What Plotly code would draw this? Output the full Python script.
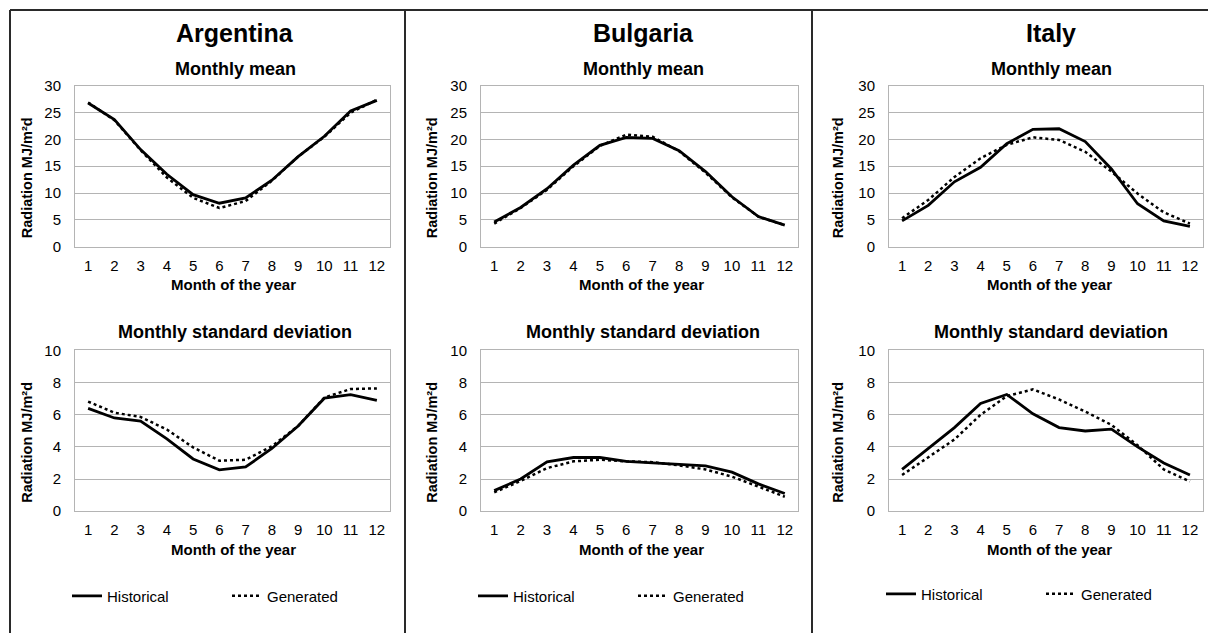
import plotly.graph_objects as go

# ---------------- data ----------------
months = [1, 2, 3, 4, 5, 6, 7, 8, 9, 10, 11, 12]
month_labels = [str(m) for m in months]
countries = ["Argentina", "Bulgaria", "Italy"]
series_names = ["Historical", "Generated"]

arg_mean_hist = [26.8, 23.7, 18.1, 13.5, 9.7, 8.1, 9.1, 12.4, 16.8, 20.6, 25.3, 27.3]
arg_mean_gen = [26.9, 23.6, 18.0, 12.9, 9.1, 7.2, 8.5, 12.3, 16.8, 20.5, 25.0, 27.4]
bul_mean_hist = [4.6, 7.3, 10.8, 15.2, 18.9, 20.4, 20.2, 17.9, 14.0, 9.3, 5.6, 4.0]
bul_mean_gen = [4.3, 7.2, 10.6, 15.0, 18.8, 20.9, 20.5, 17.8, 13.8, 9.2, 5.6, 4.0]
ita_mean_hist = [4.8, 7.7, 12.1, 14.8, 19.2, 21.9, 22.0, 19.6, 14.5, 8.0, 4.8, 3.8]
ita_mean_gen = [5.3, 8.7, 13.0, 16.5, 19.0, 20.4, 19.9, 17.7, 14.0, 9.9, 6.4, 4.3]

arg_sd_hist = [6.4, 5.8, 5.6, 4.5, 3.25, 2.57, 2.75, 3.9, 5.3, 7.03, 7.25, 6.9]
arg_sd_gen = [6.82, 6.13, 5.86, 5.08, 3.97, 3.14, 3.2, 4.04, 5.3, 7.07, 7.6, 7.64]
bul_sd_hist = [1.28, 2.0, 3.07, 3.34, 3.34, 3.1, 3.0, 2.93, 2.82, 2.43, 1.7, 1.1]
bul_sd_gen = [1.17, 1.88, 2.68, 3.1, 3.2, 3.1, 3.05, 2.85, 2.6, 2.15, 1.53, 0.9]
ita_sd_hist = [2.6, 3.9, 5.2, 6.7, 7.26, 6.06, 5.2, 4.99, 5.1, 4.0, 3.0, 2.25]
ita_sd_gen = [2.25, 3.37, 4.46, 6.0, 7.16, 7.58, 6.95, 6.2, 5.37, 4.1, 2.6, 1.85]

mean_data = [(arg_mean_hist, arg_mean_gen), (bul_mean_hist, bul_mean_gen), (ita_mean_hist, ita_mean_gen)]
sd_data = [(arg_sd_hist, arg_sd_gen), (bul_sd_hist, bul_sd_gen), (ita_sd_hist, ita_sd_gen)]

# ---------------- layout helpers ----------------
W, H = 1208, 633
FONT = "Liberation Sans, Arial, Helvetica, sans-serif"
# the page is shown with the figure area starting 8px down and 617px tall
Y_OFF, H_EFF = 8, 617


def px_x(p):
    return p / W


def px_y(p):
    return 1 - (p - Y_OFF) / H_EFF


col_px = [(75, 390), (481, 798), (889, 1203)]
col_center = [233, 641, 1049]
ytitle_x = [27, 432, 838]
top_row = (85, 246)
bot_row = (350, 511)

fig = go.Figure()
layout = dict(
    width=W, height=H,
    margin=dict(l=0, r=0, t=0, b=0),
    paper_bgcolor="white", plot_bgcolor="white",
    font=dict(family=FONT, color="black"),
    showlegend=True,
    annotations=[], shapes=[],
)

grid_c = "#b4b4b4"
ax_idx = 0
for ci in range(3):
    for ri, (row, data, ymax, dt, sub) in enumerate([
        (top_row, mean_data[ci], 30, 5, "Monthly mean"),
        (bot_row, sd_data[ci], 10, 2, "Monthly standard deviation"),
    ]):
        ax_idx += 1
        xa = "xaxis" if ax_idx == 1 else f"xaxis{ax_idx}"
        ya = "yaxis" if ax_idx == 1 else f"yaxis{ax_idx}"
        xr = "x" if ax_idx == 1 else f"x{ax_idx}"
        yr = "y" if ax_idx == 1 else f"y{ax_idx}"
        legname = "legend" if ci == 0 else f"legend{ci + 1}"
        hist, gen = data
        fig.add_trace(go.Scatter(
            x=months, y=hist, mode="lines", name=series_names[0],
            line=dict(color="black", width=2.8),
            xaxis=xr, yaxis=yr, showlegend=(ri == 1), legend=legname,
        ))
        fig.add_trace(go.Scatter(
            x=months, y=gen, mode="lines", name=series_names[1],
            line=dict(color="black", width=2.5, dash="dot"),
            xaxis=xr, yaxis=yr, showlegend=(ri == 1), legend=legname,
        ))
        x0, x1 = col_px[ci]
        layout[xa] = dict(
            domain=[px_x(x0), px_x(x1)], anchor=yr,
            range=[0.5, 12.5], tickmode="array", tickvals=months, ticktext=month_labels,
            showgrid=False, zeroline=False, showline=True, mirror=True,
            linecolor=grid_c, linewidth=1, ticks="",
            tickfont=dict(size=15, family=FONT, color="black"),
            ticklabelstandoff=5, fixedrange=True,
        )
        layout[ya] = dict(
            domain=[px_y(row[1]), px_y(row[0])], anchor=xr,
            range=[0, ymax], dtick=dt, tick0=0,
            showgrid=True, gridcolor=grid_c, gridwidth=1, zeroline=False,
            showline=True, mirror=True, linecolor=grid_c, linewidth=1, ticks="",
            tickfont=dict(size=15, family=FONT, color="black"),
            ticklabelstandoff=10, fixedrange=True,
        )
        # subplot title
        layout["annotations"].append(dict(
            text=f"<b>{sub}</b>", x=px_x(col_center[ci] + 2), y=px_y(68 if ri == 0 else 332),
            xref="paper", yref="paper", showarrow=False, xanchor="center", yanchor="middle",
            font=dict(size=18, family=FONT, color="black"),
        ))
        # x axis title
        layout["annotations"].append(dict(
            text="<b>Month of the year</b>", x=px_x(col_center[ci]), y=px_y(284 if ri == 0 else 549),
            xref="paper", yref="paper", showarrow=False, xanchor="center", yanchor="middle",
            font=dict(size=15, family=FONT, color="black"),
        ))
        # y axis title
        layout["annotations"].append(dict(
            text="<b>Radiation MJ/m²d</b>", x=px_x(ytitle_x[ci]), y=px_y((row[0] + row[1]) / 2 + 12),
            xref="paper", yref="paper", showarrow=False, xanchor="center", yanchor="middle",
            textangle=-90, font=dict(size=14.5, family=FONT, color="black"),
        ))
    # country title
    layout["annotations"].append(dict(
        text=f"<b>{countries[ci]}</b>", x=px_x(col_center[ci] + 2), y=px_y(32),
        xref="paper", yref="paper", showarrow=False, xanchor="center", yanchor="middle",
        font=dict(size=25, family=FONT, color="black"),
    ))

# legends
leg_x = [72, 478, 886]
leg_y = [596, 596, 594]
for ci in range(3):
    key = "legend" if ci == 0 else f"legend{ci + 1}"
    layout[key] = dict(
        orientation="h", x=px_x(leg_x[ci] - 5), y=px_y(leg_y[ci]),
        xanchor="left", yanchor="middle",
        font=dict(size=15, family=FONT, color="black"),
        bgcolor="rgba(0,0,0,0)", entrywidth=115, entrywidthmode="pixels",
        itemclick=False, itemdoubleclick=False,
    )

# frame lines
frame_c = "#2a2a2a"
layout["shapes"] += [
    dict(type="line", xref="paper", yref="paper", x0=px_x(10), x1=1, y0=px_y(9), y1=px_y(9),
         line=dict(color=frame_c, width=2)),
    dict(type="line", xref="paper", yref="paper", x0=px_x(10), x1=px_x(10), y0=px_y(9), y1=px_y(640),
         line=dict(color=frame_c, width=2)),
    dict(type="line", xref="paper", yref="paper", x0=px_x(405), x1=px_x(405), y0=px_y(9), y1=px_y(640),
         line=dict(color=frame_c, width=2)),
    dict(type="line", xref="paper", yref="paper", x0=px_x(812), x1=px_x(812), y0=px_y(9), y1=px_y(640),
         line=dict(color=frame_c, width=2)),
]

fig.update_layout(**layout)
page_css = (
    "document.documentElement.style.margin='0';document.body.style.margin='0';"
    "document.body.style.padding='0';document.documentElement.style.overflow='hidden';"
    "document.body.style.overflow='hidden';"
)
fig.write_html("out.html", config={"displayModeBar": False}, post_script=page_css)
